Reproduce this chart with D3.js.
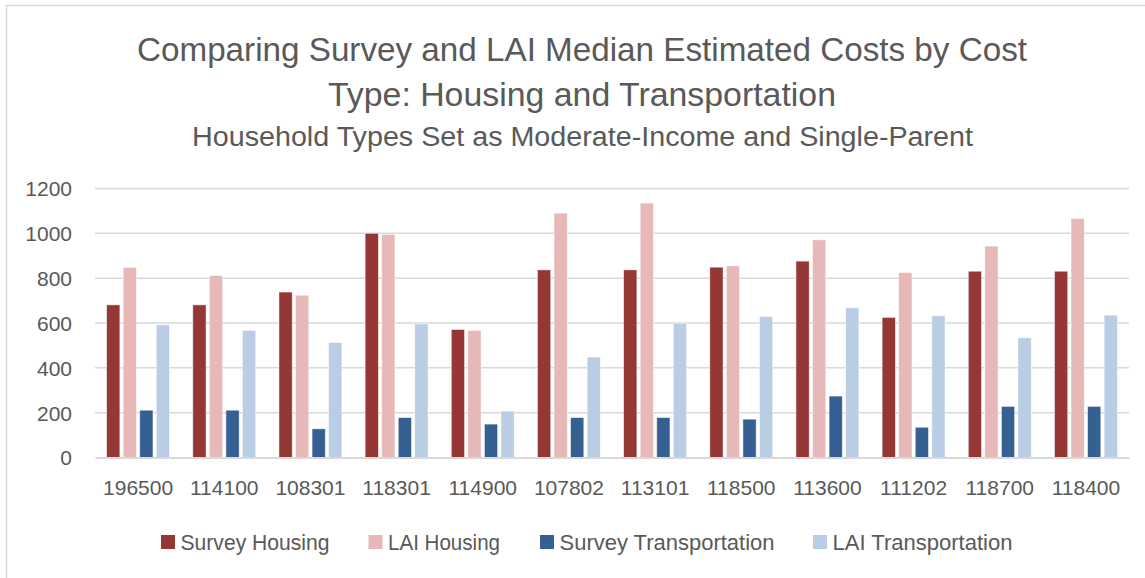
<!DOCTYPE html>
<html>
<head>
<meta charset="utf-8">
<script src="https://cdn.jsdelivr.net/npm/d3@7"></script>
<style>
  body { margin: 0; background: #fff; }
  svg text { font-family: "Liberation Sans", "DejaVu Sans", sans-serif; fill: #595959; }
</style>
</head>
<body>
<svg id="chart"></svg>
<script>
const WIDTH = 1145;
const HEIGHT = 578;
const PLOT = { left: 95, right: 1129, top: 188.5, bottom: 457.5 };

// data
const zipCodes = ["196500", "114100", "108301", "118301", "114900", "107802",
                  "113101", "118500", "113600", "111202", "118700", "118400"];
const seriesNames = ["Survey Housing", "LAI Housing", "Survey Transportation", "LAI Transportation"];
const seriesColors = ["#953735", "#e6b9b8", "#376092", "#b9cde5"];
const surveyHousing = [681, 681, 738, 1000, 571, 837, 837, 849, 876, 625, 831, 831];
const laiHousing = [848, 812, 724, 995, 567, 1090, 1135, 855, 971, 825, 943, 1066];
const surveyTransport = [211, 211, 128, 178, 149, 178, 178, 171, 274, 135, 228, 228];
const laiTransport = [592, 567, 513, 596, 207, 448, 599, 629, 668, 632, 534, 635];
const yTicks = [0, 200, 400, 600, 800, 1000, 1200];

const seriesValues = [surveyHousing, laiHousing, surveyTransport, laiTransport];
const rows = zipCodes.map((z, i) => ({
    zip: z,
    values: seriesNames.map((s, j) => ({ key: s, value: seriesValues[j][i] }))
}));

const svg = d3.select("#chart")
    .attr("width", WIDTH)
    .attr("height", HEIGHT);

// outer chart border
svg.append("rect")
    .attr("x", 6.5).attr("y", 5.5)
    .attr("width", WIDTH + 10).attr("height", HEIGHT + 10)
    .attr("fill", "none")
    .attr("stroke", "#d9d9d9")
    .attr("stroke-width", 1.5);

// titles (Calibri is narrow, so squeeze to the reference widths)
function fittedText(txt, x, y, size, width) {
    svg.append("text")
        .attr("x", x).attr("y", y)
        .attr("text-anchor", "middle")
        .attr("font-size", size)
        .attr("textLength", width)
        .attr("lengthAdjust", "spacingAndGlyphs")
        .text(txt);
}
fittedText("Comparing Survey and LAI Median Estimated Costs by Cost", 582, 61, 33, 890);
fittedText("Type: Housing and Transportation", 582, 106, 33, 508);
fittedText("Household Types Set as Moderate-Income and Single-Parent", 582.5, 146, 27, 781);

const x0 = d3.scaleBand()
    .domain(zipCodes)
    .range([PLOT.left, PLOT.right])
    .paddingInner(0.27)
    .paddingOuter(0.135);

const x1 = d3.scaleBand()
    .domain(seriesNames)
    .range([0, x0.bandwidth()])
    .paddingInner(0.2);

const y = d3.scaleLinear()
    .domain([0, 1200])
    .range([PLOT.bottom, PLOT.top]);

const color = d3.scaleOrdinal()
    .domain(seriesNames)
    .range(seriesColors);

// gridlines
svg.append("g")
    .selectAll("line")
    .data(yTicks.filter(t => t > 0))
    .enter()
    .append("line")
    .attr("x1", PLOT.left).attr("x2", PLOT.right)
    .attr("y1", d => y(d)).attr("y2", d => y(d))
    .attr("stroke", "#d9d9d9")
    .attr("stroke-width", 1.5);

// y axis labels
const yAxis = svg.append("g")
    .attr("transform", `translate(72,0)`)
    .call(d3.axisLeft(y).tickValues(yTicks).tickFormat(d3.format("d")).tickSize(0).tickPadding(0));
yAxis.select(".domain").remove();
yAxis.selectAll("text")
    .attr("font-size", 21)
    .attr("font-family", null)
    .attr("fill", null)
    .attr("dy", "0.35em");

// bars
const groups = svg.append("g")
    .selectAll("g")
    .data(rows)
    .enter()
    .append("g")
    .attr("transform", d => `translate(${x0(d.zip)},0)`);

groups.selectAll("rect")
    .data(d => d.values)
    .enter()
    .append("rect")
    .attr("x", d => x1(d.key))
    .attr("width", x1.bandwidth())
    .attr("y", d => y(d.value))
    .attr("height", d => y(0) - y(d.value))
    .attr("fill", d => color(d.key))
    .attr("stroke", "#ffffff")
    .attr("stroke-opacity", 0.6)
    .attr("stroke-width", 0.8);

// x axis
const xAxis = svg.append("g")
    .attr("transform", `translate(0,${PLOT.bottom})`)
    .call(d3.axisBottom(x0).tickSize(0).tickPadding(0).tickSizeOuter(0));
xAxis.select(".domain")
    .attr("stroke", "#d9d9d9")
    .attr("stroke-width", 2);
xAxis.selectAll("text")
    .attr("font-size", 21)
    .attr("font-family", null)
    .attr("fill", null)
    .attr("dy", null)
    .attr("y", 37.5);

// legend
const legendX = [161, 368.5, 540, 813];
const legendW = [149, 112, 215, 180];
const legend = svg.append("g")
    .selectAll("g")
    .data(seriesNames)
    .enter()
    .append("g")
    .attr("transform", (d, i) => `translate(${legendX[i]},535)`);

legend.append("rect")
    .attr("width", 14).attr("height", 14)
    .attr("fill", d => color(d));

legend.append("text")
    .attr("x", 19.5)
    .attr("y", 15)
    .attr("font-size", 22)
    .attr("textLength", (d, i) => legendW[i])
    .attr("lengthAdjust", "spacingAndGlyphs")
    .text(d => d);
</script>
</body>
</html>
